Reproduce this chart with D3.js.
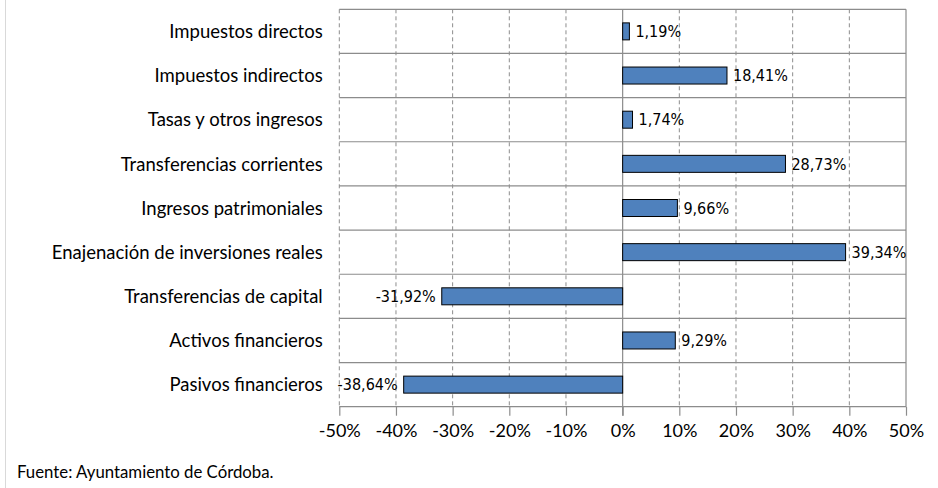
<!DOCTYPE html>
<html>
<head>
<meta charset="utf-8">
<script src="https://cdn.jsdelivr.net/npm/d3@7"></script>
<style>
  body { margin: 0; background: #fff; }
  .cat-label { font-family: Lato, "Open Sans", sans-serif; font-size: 18.5px; fill: #000; }
  .tick-label { font-family: Lato, "Open Sans", sans-serif; font-size: 18px; fill: #000; }
  .value-label { font-family: "DejaVu Sans Condensed", "DejaVu Sans", sans-serif; font-stretch: condensed; font-size: 16px; fill: #000; }
  .source { font-family: Lato, "Open Sans", sans-serif; font-size: 16.8px; fill: #000; }
</style>
</head>
<body>
<svg width="938" height="488"></svg>
<script>
const width = 938;
const height = 488;

const svg = d3.select('svg');

// datos
const categories = [
    'Impuestos directos',
    'Impuestos indirectos',
    'Tasas y otros ingresos',
    'Transferencias corrientes',
    'Ingresos patrimoniales',
    'Enajenación de inversiones reales',
    'Transferencias de capital',
    'Activos financieros',
    'Pasivos financieros'
];
const values = [1.19, 18.41, 1.74, 28.73, 9.66, 39.34, -31.92, 9.29, -38.64];
const xTicks = [-50, -40, -30, -20, -10, 0, 10, 20, 30, 40, 50];
const sourceText = 'Fuente: Ayuntamiento de Córdoba.';

const data = categories.map((c, i) => ({ name: c, value: values[i] }));

const margin = { top: 9.3, bottom: 81.3, left: 339.3, right: 32 };
const innerWidth = width - margin.left - margin.right;
const innerHeight = height - margin.top - margin.bottom;

const gridColor = '#8c8c8c';

const locale = d3.formatLocale({ decimal: ',', thousands: '.', grouping: [3], currency: ['', '€'], minus: '-' });
const valueFormat = d => locale.format('.2f')(d) + '%';

const xScale = d3.scaleLinear()
    .domain([-50, 50])
    .range([0, innerWidth]);

const yScale = d3.scaleBand()
    .domain(categories)
    .range([0, innerHeight])
    .paddingInner(0.615)
    .paddingOuter(0.3075);

const step = yScale.step();

// borde izquierdo del gráfico
svg.append('line')
    .attr('x1', 5.5).attr('x2', 5.5)
    .attr('y1', 0).attr('y2', height)
    .attr('stroke', '#d9d9d9')
    .attr('stroke-width', 1);

const g = svg.append('g')
    .attr('transform', 'translate(' + margin.left + ', ' + margin.top + ')');

// lineas verticales discontinuas
g.selectAll('.vgrid')
    .data(xTicks.filter(t => t !== 0 && t !== 50))
    .enter()
    .append('line')
    .attr('class', 'vgrid')
    .attr('x1', d => xScale(d)).attr('x2', d => xScale(d))
    .attr('y1', 0).attr('y2', innerHeight)
    .attr('stroke', gridColor)
    .attr('stroke-width', 1)
    .attr('stroke-dasharray', '4,3');

// borde derecho
g.append('line')
    .attr('x1', xScale(50)).attr('x2', xScale(50))
    .attr('y1', 0).attr('y2', innerHeight)
    .attr('stroke', gridColor)
    .attr('stroke-width', 1.2);

// lineas horizontales entre categorias
g.selectAll('.hgrid')
    .data(d3.range(categories.length + 1))
    .enter()
    .append('line')
    .attr('class', 'hgrid')
    .attr('x1', 0).attr('x2', innerWidth)
    .attr('y1', d => d * step).attr('y2', d => d * step)
    .attr('stroke', gridColor)
    .attr('stroke-width', 1.2);

// eje x
const xAxis = d3.axisBottom(xScale)
    .tickValues(xTicks)
    .tickSize(9)
    .tickPadding(6)
    .tickFormat(d => d + '%');

const xAxisG = g.append('g')
    .attr('transform', 'translate(0, ' + innerHeight + ')')
    .call(xAxis);
xAxisG.select('.domain').remove();
xAxisG.selectAll('.tick line').attr('stroke', gridColor).attr('stroke-width', 1.2);
xAxisG.selectAll('.tick text')
    .attr('class', 'tick-label')
    .attr('font-family', null).attr('font-size', null)
    .attr('dy', '0.85em');

// eje vertical en cero
g.append('line')
    .attr('x1', xScale(0)).attr('x2', xScale(0))
    .attr('y1', 0).attr('y2', innerHeight + 9)
    .attr('stroke', gridColor)
    .attr('stroke-width', 1.2);

// barras
g.selectAll('.bar')
    .data(data)
    .enter()
    .append('rect')
    .attr('class', 'bar')
    .attr('x', d => xScale(Math.min(0, d.value)))
    .attr('y', d => yScale(d.name))
    .attr('width', d => Math.abs(xScale(d.value) - xScale(0)))
    .attr('height', yScale.bandwidth())
    .attr('fill', '#4f81bd')
    .attr('stroke', '#000')
    .attr('stroke-width', 1);

// etiquetas de valor
g.selectAll('.value-label')
    .data(data)
    .enter()
    .append('text')
    .attr('class', 'value-label')
    .attr('x', d => d.value >= 0 ? xScale(d.value) + 6 : xScale(d.value) - 6)
    .attr('y', d => yScale(d.name) + yScale.bandwidth() / 2)
    .attr('dy', '0.36em')
    .attr('text-anchor', d => d.value >= 0 ? 'start' : 'end')
    .text(d => valueFormat(d.value));

// etiquetas de categoria
g.selectAll('.cat-label')
    .data(data)
    .enter()
    .append('text')
    .attr('class', 'cat-label')
    .attr('x', -16.6)
    .attr('y', d => yScale(d.name) + yScale.bandwidth() / 2)
    .attr('dy', '0.36em')
    .attr('text-anchor', 'end')
    .text(d => d.name);

// fuente
svg.append('text')
    .attr('class', 'source')
    .attr('x', 17)
    .attr('y', 477.5)
    .text(sourceText);
</script>
</body>
</html>
